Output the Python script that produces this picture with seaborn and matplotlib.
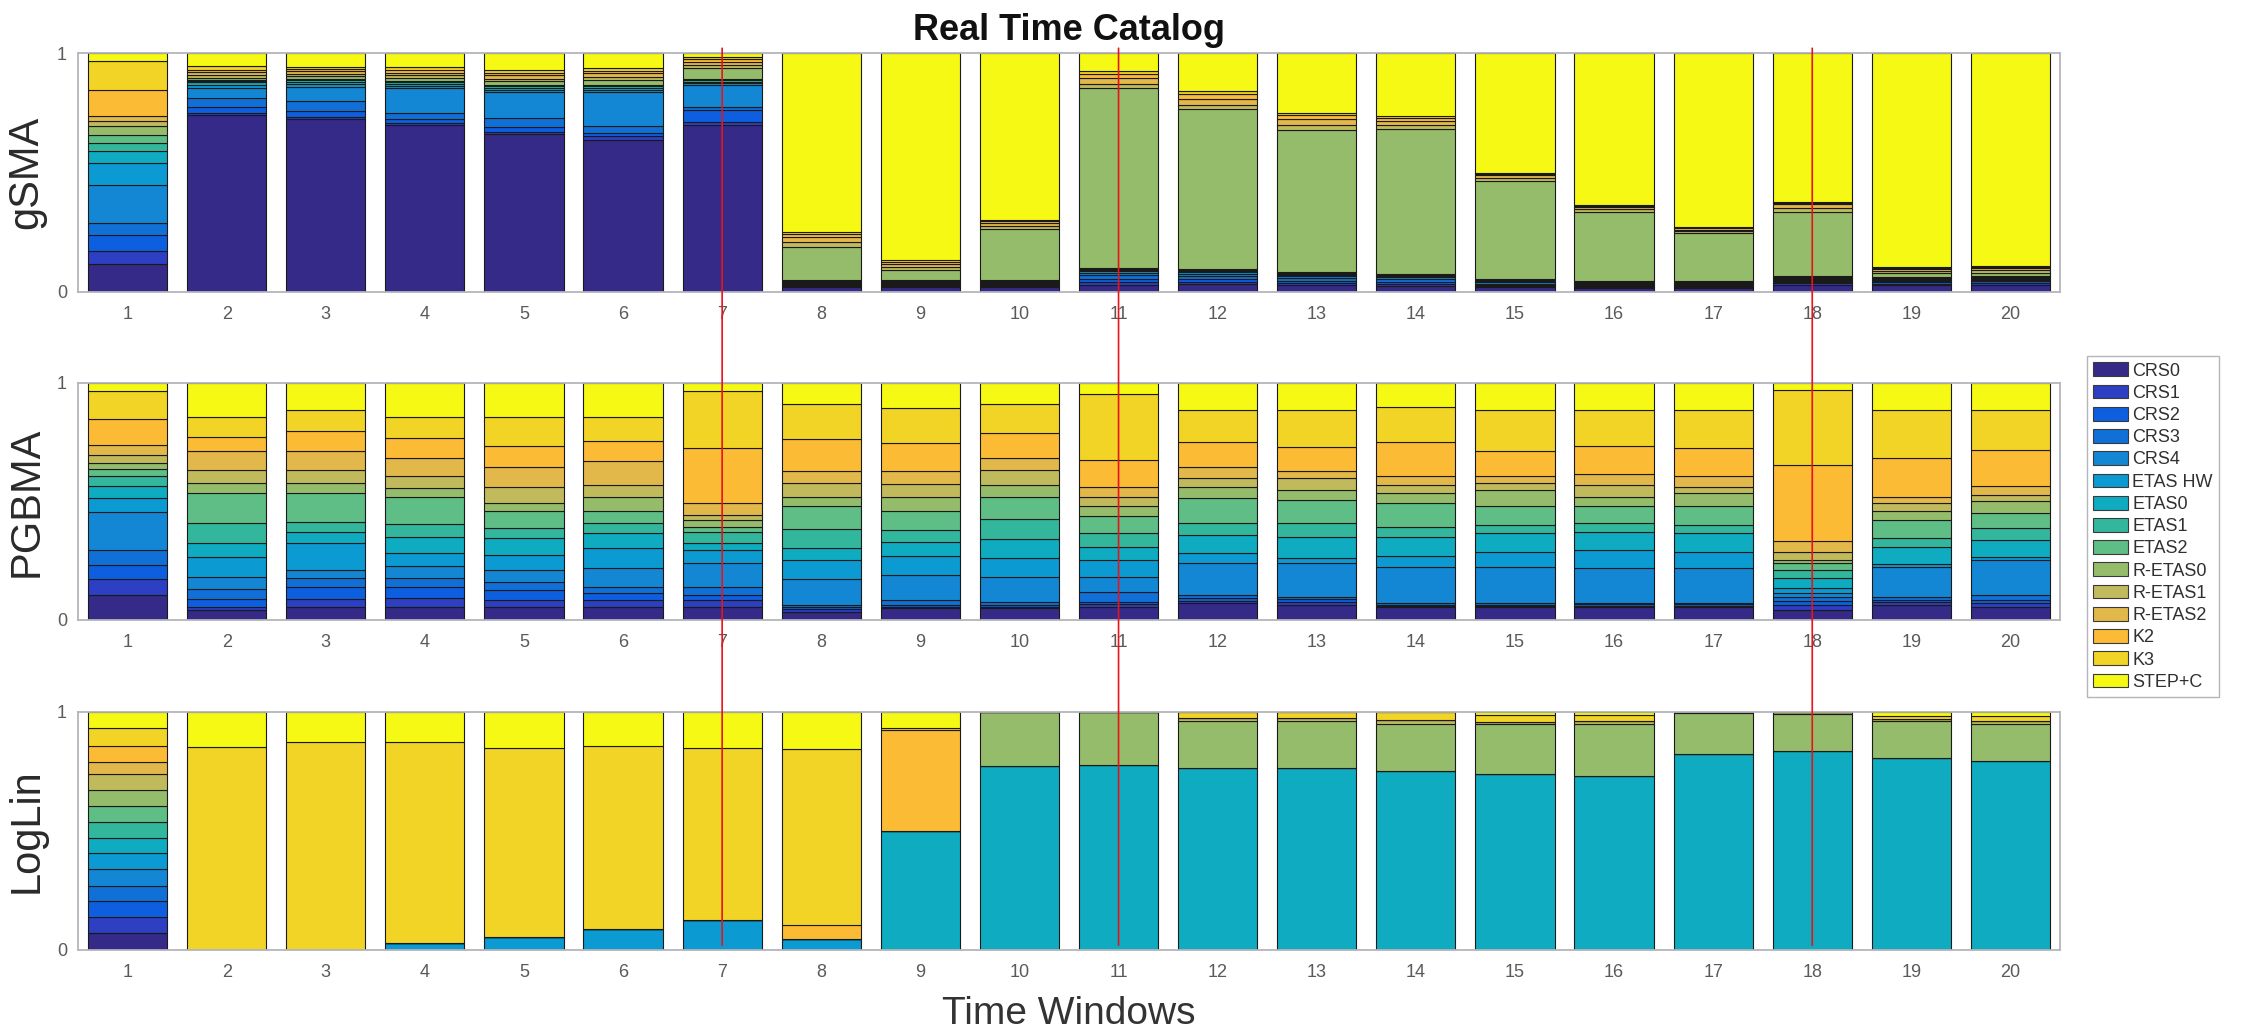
import matplotlib
matplotlib.use("Agg")
import matplotlib.pyplot as plt
from matplotlib.patches import Patch, ConnectionPatch
import pandas as pd
import seaborn as sns

# ---------------------------------------------------------------- data
models = ["CRS0", "CRS1", "CRS2", "CRS3", "CRS4", "ETAS HW", "ETAS0", "ETAS1",
          "ETAS2", "R-ETAS0", "R-ETAS1", "R-ETAS2", "K2", "K3", "STEP+C"]
windows = [1, 2, 3, 4, 5, 6, 7, 8, 9, 10, 11, 12, 13, 14, 15, 16, 17, 18, 19, 20]
marked_windows = [7, 11, 18]

# model weights per time window (one row per window, columns in `models` order)
gsma_weights = [
    [0.119, 0.053, 0.066, 0.049, 0.161, 0.091, 0.049, 0.035, 0.035, 0.035, 0.021, 0.021, 0.112, 0.119, 0.034],
    [0.741, 0.010, 0.025, 0.035, 0.042, 0.014, 0.010, 0.006, 0.006, 0.008, 0.010, 0.012, 0.010, 0.015, 0.056],
    [0.723, 0.010, 0.025, 0.040, 0.060, 0.012, 0.010, 0.006, 0.006, 0.010, 0.010, 0.012, 0.008, 0.010, 0.058],
    [0.699, 0.010, 0.015, 0.025, 0.105, 0.010, 0.008, 0.006, 0.006, 0.012, 0.010, 0.012, 0.010, 0.012, 0.060],
    [0.660, 0.010, 0.020, 0.036, 0.110, 0.010, 0.008, 0.006, 0.006, 0.015, 0.012, 0.015, 0.010, 0.012, 0.070],
    [0.636, 0.015, 0.015, 0.030, 0.140, 0.010, 0.008, 0.006, 0.006, 0.020, 0.012, 0.020, 0.008, 0.012, 0.062],
    [0.699, 0.012, 0.050, 0.015, 0.090, 0.008, 0.006, 0.005, 0.006, 0.045, 0.015, 0.012, 0.010, 0.012, 0.015],
    [0.020, 0.004, 0.004, 0.004, 0.004, 0.004, 0.004, 0.003, 0.003, 0.140, 0.020, 0.020, 0.012, 0.010, 0.748],
    [0.020, 0.004, 0.004, 0.004, 0.004, 0.004, 0.004, 0.003, 0.003, 0.040, 0.015, 0.012, 0.008, 0.008, 0.867],
    [0.020, 0.004, 0.004, 0.004, 0.004, 0.004, 0.004, 0.003, 0.003, 0.215, 0.012, 0.012, 0.008, 0.006, 0.697],
    [0.030, 0.010, 0.015, 0.015, 0.010, 0.006, 0.006, 0.004, 0.004, 0.752, 0.020, 0.025, 0.015, 0.012, 0.076],
    [0.035, 0.008, 0.012, 0.012, 0.010, 0.006, 0.006, 0.004, 0.004, 0.670, 0.015, 0.025, 0.020, 0.012, 0.161],
    [0.030, 0.008, 0.010, 0.010, 0.008, 0.005, 0.005, 0.004, 0.004, 0.595, 0.020, 0.025, 0.015, 0.010, 0.251],
    [0.025, 0.008, 0.010, 0.010, 0.008, 0.005, 0.005, 0.003, 0.003, 0.605, 0.015, 0.020, 0.010, 0.008, 0.265],
    [0.020, 0.005, 0.005, 0.005, 0.005, 0.004, 0.004, 0.003, 0.003, 0.410, 0.015, 0.010, 0.006, 0.005, 0.500],
    [0.015, 0.004, 0.004, 0.004, 0.004, 0.004, 0.004, 0.003, 0.003, 0.290, 0.012, 0.008, 0.006, 0.005, 0.634],
    [0.015, 0.004, 0.004, 0.004, 0.004, 0.004, 0.004, 0.003, 0.003, 0.200, 0.010, 0.006, 0.005, 0.004, 0.730],
    [0.030, 0.006, 0.005, 0.005, 0.005, 0.004, 0.004, 0.003, 0.003, 0.270, 0.018, 0.014, 0.006, 0.005, 0.622],
    [0.030, 0.005, 0.005, 0.005, 0.005, 0.004, 0.004, 0.003, 0.003, 0.015, 0.010, 0.006, 0.004, 0.004, 0.897],
    [0.030, 0.008, 0.006, 0.005, 0.005, 0.004, 0.004, 0.003, 0.003, 0.012, 0.012, 0.008, 0.004, 0.004, 0.892],
]

pgbma_weights = [
    [0.106, 0.066, 0.061, 0.061, 0.161, 0.061, 0.049, 0.042, 0.031, 0.025, 0.035, 0.042, 0.106, 0.120, 0.034],
    [0.042, 0.014, 0.031, 0.043, 0.053, 0.082, 0.059, 0.087, 0.124, 0.042, 0.054, 0.080, 0.061, 0.084, 0.144],
    [0.056, 0.031, 0.054, 0.035, 0.035, 0.113, 0.049, 0.042, 0.120, 0.042, 0.057, 0.077, 0.085, 0.091, 0.113],
    [0.056, 0.036, 0.049, 0.035, 0.050, 0.056, 0.070, 0.052, 0.117, 0.035, 0.050, 0.077, 0.085, 0.088, 0.144],
    [0.056, 0.029, 0.042, 0.035, 0.050, 0.063, 0.070, 0.042, 0.071, 0.035, 0.070, 0.082, 0.090, 0.121, 0.144],
    [0.056, 0.030, 0.027, 0.028, 0.080, 0.082, 0.066, 0.039, 0.050, 0.063, 0.049, 0.099, 0.085, 0.102, 0.144],
    [0.056, 0.029, 0.021, 0.035, 0.098, 0.057, 0.028, 0.049, 0.021, 0.029, 0.021, 0.049, 0.232, 0.240, 0.035],
    [0.035, 0.010, 0.008, 0.010, 0.109, 0.082, 0.049, 0.080, 0.096, 0.042, 0.056, 0.050, 0.136, 0.150, 0.087],
    [0.050, 0.006, 0.007, 0.020, 0.107, 0.078, 0.063, 0.049, 0.078, 0.063, 0.054, 0.052, 0.119, 0.148, 0.106],
    [0.050, 0.006, 0.007, 0.015, 0.105, 0.078, 0.080, 0.084, 0.096, 0.049, 0.064, 0.049, 0.106, 0.124, 0.087],
    [0.056, 0.010, 0.010, 0.044, 0.063, 0.071, 0.056, 0.056, 0.071, 0.042, 0.042, 0.042, 0.110, 0.282, 0.045],
    [0.070, 0.012, 0.012, 0.012, 0.133, 0.043, 0.077, 0.052, 0.103, 0.049, 0.036, 0.046, 0.104, 0.138, 0.113],
    [0.063, 0.012, 0.012, 0.012, 0.140, 0.022, 0.091, 0.059, 0.096, 0.042, 0.050, 0.028, 0.105, 0.155, 0.113],
    [0.056, 0.005, 0.004, 0.005, 0.155, 0.043, 0.084, 0.042, 0.099, 0.042, 0.035, 0.036, 0.143, 0.150, 0.101],
    [0.056, 0.005, 0.004, 0.005, 0.155, 0.064, 0.077, 0.035, 0.078, 0.070, 0.028, 0.029, 0.105, 0.176, 0.113],
    [0.056, 0.005, 0.005, 0.005, 0.147, 0.078, 0.077, 0.035, 0.071, 0.042, 0.049, 0.047, 0.118, 0.152, 0.113],
    [0.056, 0.005, 0.005, 0.005, 0.147, 0.071, 0.077, 0.035, 0.078, 0.056, 0.028, 0.043, 0.119, 0.162, 0.113],
    [0.042, 0.020, 0.020, 0.017, 0.014, 0.021, 0.042, 0.035, 0.028, 0.015, 0.035, 0.046, 0.320, 0.317, 0.028],
    [0.063, 0.011, 0.011, 0.014, 0.126, 0.010, 0.075, 0.035, 0.078, 0.035, 0.035, 0.028, 0.162, 0.204, 0.113],
    [0.056, 0.014, 0.015, 0.021, 0.148, 0.010, 0.074, 0.049, 0.064, 0.049, 0.028, 0.038, 0.152, 0.169, 0.113],
]

loglin_weights = [
    [0.073, 0.067, 0.066, 0.064, 0.069, 0.067, 0.066, 0.067, 0.067, 0.066, 0.066, 0.053, 0.066, 0.074, 0.069],
    [0, 0, 0, 0, 0, 0.000, 0.000, 0, 0, 0.000, 0.000, 0, 0.000, 0.853, 0.147],
    [0, 0, 0, 0, 0, 0.000, 0.000, 0, 0, 0.000, 0.000, 0, 0.000, 0.874, 0.126],
    [0, 0, 0, 0, 0, 0.031, 0.000, 0, 0, 0.000, 0.000, 0, 0.000, 0.843, 0.126],
    [0, 0, 0, 0, 0, 0.056, 0.000, 0, 0, 0.000, 0.000, 0, 0.000, 0.794, 0.150],
    [0, 0, 0, 0, 0, 0.087, 0.000, 0, 0, 0.000, 0.000, 0, 0.000, 0.769, 0.144],
    [0, 0, 0, 0, 0, 0.126, 0.000, 0, 0, 0.000, 0.000, 0, 0.000, 0.724, 0.150],
    [0, 0, 0, 0, 0, 0.045, 0.000, 0, 0, 0.000, 0.000, 0, 0.060, 0.741, 0.154],
    [0, 0, 0, 0, 0, 0.000, 0.501, 0, 0, 0.000, 0.000, 0, 0.425, 0.005, 0.069],
    [0, 0, 0, 0, 0, 0.000, 0.772, 0, 0, 0.228, 0.000, 0, 0.000, 0.000, 0.000],
    [0, 0, 0, 0, 0, 0.000, 0.776, 0, 0, 0.224, 0.000, 0, 0.000, 0.000, 0.000],
    [0, 0, 0, 0, 0, 0.000, 0.766, 0, 0, 0.196, 0.014, 0, 0.000, 0.024, 0.000],
    [0, 0, 0, 0, 0, 0.000, 0.766, 0, 0, 0.196, 0.014, 0, 0.000, 0.024, 0.000],
    [0, 0, 0, 0, 0, 0.000, 0.752, 0, 0, 0.196, 0.017, 0, 0.000, 0.035, 0.000],
    [0, 0, 0, 0, 0, 0.000, 0.741, 0, 0, 0.207, 0.010, 0, 0.000, 0.028, 0.014],
    [0, 0, 0, 0, 0, 0.000, 0.730, 0, 0, 0.221, 0.010, 0, 0.000, 0.025, 0.014],
    [0, 0, 0, 0, 0, 0.000, 0.825, 0, 0, 0.171, 0.004, 0, 0.000, 0.000, 0.000],
    [0, 0, 0, 0, 0, 0.000, 0.835, 0, 0, 0.155, 0.010, 0, 0.000, 0.000, 0.000],
    [0, 0, 0, 0, 0, 0.000, 0.808, 0, 0, 0.154, 0.010, 0, 0.000, 0.012, 0.016],
    [0, 0, 0, 0, 0, 0.000, 0.794, 0, 0, 0.157, 0.012, 0, 0.000, 0.020, 0.017],
]

panel_names = ["gSMA", "PGBMA", "LogLin"]
panel_weights = [gsma_weights, pgbma_weights, loglin_weights]

# parula-style colours, one per model
model_colors = ["#352a87", "#2d3fc2", "#0d5fe0", "#1170d8", "#1387d4",
                "#0b9bd2", "#0fabc0", "#33b79c", "#5fbd86", "#95bc6b",
                "#c1ba5c", "#e3b84b", "#fcbb35", "#f2d426", "#f6f914"]
palette = dict(zip(models, model_colors))

# ---------------------------------------------------------------- style
sns.set_theme(style="white")
plt.rcParams["font.family"] = ["Liberation Sans", "DejaVu Sans"]

W, H = 2261, 1034
fig = plt.figure(figsize=(W / 100, H / 100), dpi=100)
fig.patch.set_facecolor("white")

ax_left, ax_right = 78, 2060
panel_rows = [(53, 292), (383, 620), (712, 950)]

axes = []
for name, weights, (top, bottom) in zip(panel_names, panel_weights, panel_rows):
    ax = fig.add_axes([ax_left / W, 1 - bottom / H,
                       (ax_right - ax_left) / W, (bottom - top) / H])
    records = [(w, m, v) for w, row in zip(windows, weights)
               for m, v in zip(models, row)]
    df = pd.DataFrame(records, columns=["window", "model", "weight"])
    # stacking puts the last hue level at the bottom, so CRS0 goes last
    sns.histplot(data=df, x="window", weights="weight", hue="model",
                 hue_order=models[::-1], palette=palette, multiple="stack",
                 discrete=True, shrink=0.8, alpha=1, edgecolor="#1a1a1a",
                 linewidth=0.8, legend=False, ax=ax)
    ax.set_xlim(0.5, 20.5)
    ax.set_ylim(0, 1)
    ax.set_xticks(windows)
    ax.set_xticklabels([str(w) for w in windows])
    ax.set_yticks([0, 1])
    ax.set_yticklabels(["0", "1"])
    ax.tick_params(axis="both", length=0, labelsize=13, labelcolor="#5a5a5a")
    ax.tick_params(axis="x", pad=10)
    ax.tick_params(axis="y", pad=8)
    ax.set_xlabel("")
    ax.set_ylabel(name, fontsize=30, color="#2a2a2a")
    ax.yaxis.set_label_coords(-0.016, 0.5)
    for sp in ax.spines.values():
        sp.set_visible(True)
        sp.set_color("#b4b4bc")
        sp.set_linewidth(1.3)
    axes.append(ax)

# vertical markers running through all three panels
for w in marked_windows:
    con = ConnectionPatch(xyA=(w, 1.02), coordsA=axes[0].transData,
                          xyB=(w, 0.02), coordsB=axes[2].transData,
                          color="#e8141c", linewidth=1.2, zorder=10)
    fig.add_artist(con)

fig.text((ax_left + ax_right) / 2 / W, 1 - 30 / H, "Real Time Catalog",
         ha="center", va="center", fontsize=26, fontweight="bold",
         color="#111111")
fig.text((ax_left + ax_right) / 2 / W, 1 - 1024 / H, "Time Windows",
         ha="center", va="baseline", fontsize=28, color="#333333")

handles = [Patch(facecolor=c, edgecolor="#3a3a3a", linewidth=0.8)
           for c in model_colors]
fig.legend(handles, models, loc="upper left",
           bbox_to_anchor=(2087 / W, 1 - 356 / H), frameon=True,
           fancybox=False, edgecolor="#b4b4bc", framealpha=1,
           fontsize=13, handlelength=1.9, handleheight=0.8,
           labelspacing=0.28, borderpad=0.35, handletextpad=0.25,
           borderaxespad=0, labelcolor="#303030")

fig.savefig("out.png", dpi=100, facecolor="white")
